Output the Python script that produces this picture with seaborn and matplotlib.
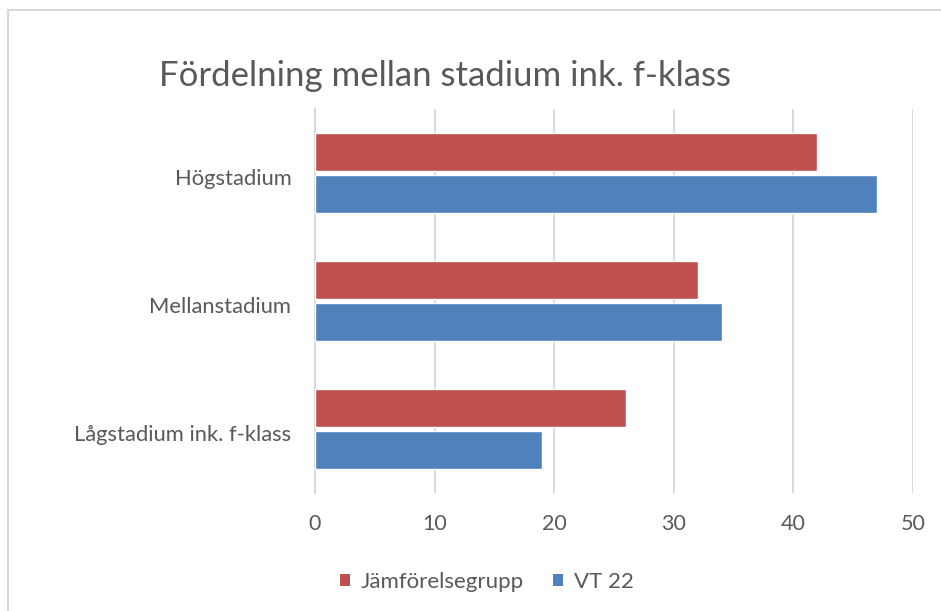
import matplotlib
matplotlib.use("Agg")
import matplotlib.pyplot as plt
import matplotlib.transforms as mtrans
import seaborn as sns
import pandas as pd
from matplotlib.patches import Rectangle, Patch

categories = ["Högstadium", "Mellanstadium", "Lågstadium ink. f-klass"]
series_names = ["Jämförelsegrupp", "VT 22"]
jamforelse = [42, 32, 26]
vt22 = [47, 34, 19]
xticks = [0, 10, 20, 30, 40, 50]
title = "Fördelning mellan stadium ink. f-klass"
colors = ["#C0504D", "#4F81BD"]
text_color = "#595959"
grid_color = "#D9D9D9"

df = pd.DataFrame({
    "Stadium": categories * 2,
    "Serie": [series_names[0]] * 3 + [series_names[1]] * 3,
    "Värde": jamforelse + vt22,
})

sns.set_theme(style="white")
plt.rcParams["font.family"] = ["Lato", "DejaVu Sans"]

W, H = 941, 611
fig = plt.figure(figsize=(W / 100, H / 100), dpi=100)
ax = fig.add_axes([315 / W, (H - 493) / H, (913 - 315) / W, (493 - 109) / H])

sns.barplot(data=df, y="Stadium", x="Värde", hue="Serie", order=categories,
            hue_order=series_names, palette=colors, orient="h",
            width=0.66, gap=0.09, ax=ax, legend=False, saturation=1,
            zorder=3)

ax.set_xlim(0, 50)
ax.set_ylim(2.5, -0.5)
ax.set_xticks(xticks)
ax.set_xticklabels([str(t) for t in xticks])
ax.xaxis.grid(True, color=grid_color, linewidth=1.4, zorder=0)
ax.set_axisbelow(True)
ax.set_xlabel("")
ax.set_ylabel("")
for s in ["top", "right", "bottom"]:
    ax.spines[s].set_visible(False)
ax.spines["left"].set_color(grid_color)
ax.spines["left"].set_linewidth(1.4)
ax.tick_params(axis="x", length=0, pad=15, labelsize=15.5, labelcolor=text_color)
ax.tick_params(axis="y", which="major", length=0, pad=17, labelsize=15.8,
               labelcolor=text_color)
ax.set_yticks([-0.5, 0.5, 1.5, 2.5], minor=True)
ax.tick_params(axis="y", which="minor", length=5, width=1.4, color=grid_color,
               direction="out")
shift = mtrans.ScaledTranslation(0, -4 / 100, fig.dpi_scale_trans)
for lab in ax.get_yticklabels():
    lab.set_transform(lab.get_transform() + shift)

fig.text(445 / W, 1 - 76 / H, title, ha="center", va="center",
         fontsize=25, color=text_color)

handles = [Patch(facecolor=c, edgecolor="none") for c in colors]
fig.legend(handles, series_names, loc="center", bbox_to_anchor=(487 / W, 29 / H),
           ncol=2, frameon=False, fontsize=16, labelcolor=text_color,
           handlelength=0.45, handleheight=0.45, handletextpad=0.5,
           columnspacing=1.3)

fig.patches.append(Rectangle((8 / W, -0.05), 2, 1 - 10 / H + 0.05,
                             transform=fig.transFigure, fill=False,
                             edgecolor=grid_color, linewidth=1.5))

fig.savefig("out.png", dpi=100)
